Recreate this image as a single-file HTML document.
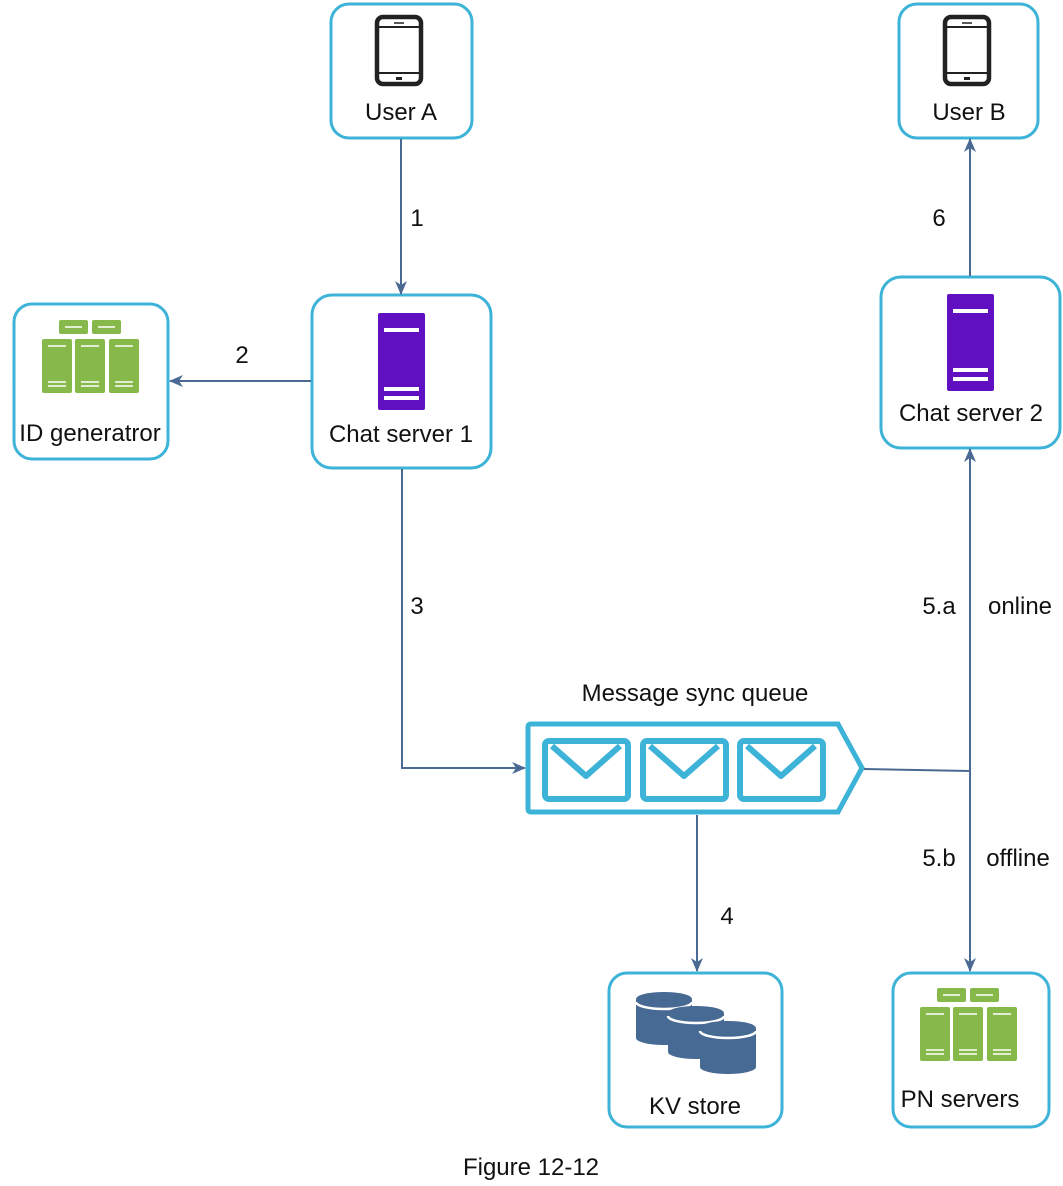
<!DOCTYPE html>
<html><head><style>
html,body{margin:0;padding:0;background:#fff;}
svg{display:block;}
text{font-family:"Liberation Sans",Arial,sans-serif;fill:#111;}
</style></head><body>
<svg width="1063" height="1186" viewBox="0 0 1063 1186" xmlns="http://www.w3.org/2000/svg">
<defs>
<marker id="ar" markerWidth="14" markerHeight="14" refX="13" refY="7" orient="auto" markerUnits="userSpaceOnUse">
<path d="M0,1 L14,7 L0,13 L4,7 Z" fill="#4a6a94"/></marker>
<g id="grn">
<rect x="17" y="0" width="29" height="14" rx="2" fill="#86b84a"/>
<rect x="50" y="0" width="29" height="14" rx="2" fill="#86b84a"/>
<line x1="23" y1="7" x2="40" y2="7" stroke="#fff" stroke-width="1.5"/>
<line x1="56" y1="7" x2="73" y2="7" stroke="#fff" stroke-width="1.5"/>
<g fill="#86b84a"><rect x="0" y="19" width="30" height="54" rx="2"/><rect x="33" y="19" width="30" height="54" rx="2"/><rect x="67" y="19" width="30" height="54" rx="2"/></g>
<g stroke="#fff" stroke-width="1.5">
<line x1="6" y1="26" x2="24" y2="26"/><line x1="39" y1="26" x2="57" y2="26"/><line x1="73" y1="26" x2="91" y2="26"/>
<line x1="6" y1="62" x2="24" y2="62"/><line x1="39" y1="62" x2="57" y2="62"/><line x1="73" y1="62" x2="91" y2="62"/>
<line x1="6" y1="66" x2="24" y2="66"/><line x1="39" y1="66" x2="57" y2="66"/><line x1="73" y1="66" x2="91" y2="66"/>
</g></g>
<g id="purp">
<rect x="0" y="0" width="47" height="97" rx="2" fill="#6010c0"/>
<rect x="6" y="15" width="35" height="4" fill="#fff"/>
<rect x="6" y="74" width="35" height="4" fill="#fff"/>
<rect x="6" y="83" width="35" height="4" fill="#fff"/>
</g>
<g id="phone">
<rect x="2" y="2" width="44" height="67" rx="6" fill="none" stroke="#222" stroke-width="4.5"/>
<line x1="2" y1="12" x2="46" y2="12" stroke="#222" stroke-width="2"/>
<line x1="2" y1="58" x2="46" y2="58" stroke="#222" stroke-width="2"/>
<line x1="19" y1="8" x2="29" y2="8" stroke="#222" stroke-width="1.5"/>
<rect x="21" y="62" width="6" height="3" fill="#222"/>
</g>
<g id="cyl">
<path d="M0,8 L0,46 A28,7 0 0 0 56,46 L56,8 Z" fill="#466a94"/>
<ellipse cx="28" cy="7" rx="28" ry="7" fill="#466a94"/>
<path d="M0,10 A28,7 0 0 0 56,10" fill="none" stroke="#fff" stroke-width="2.5"/>
</g>
</defs>

<g fill="#fff" stroke="#3db3d8" stroke-width="3">
<rect x="331" y="4" width="141" height="134" rx="18"/>
<rect x="899" y="4" width="139" height="134" rx="18"/>
<rect x="14" y="304" width="154" height="155" rx="18"/>
<rect x="312" y="295" width="179" height="173" rx="20"/>
<rect x="881" y="277" width="179" height="171" rx="20"/>
<rect x="609" y="973" width="173" height="154" rx="18"/>
<rect x="893" y="973" width="156" height="154" rx="18"/>
</g>

<use href="#phone" x="375" y="15"/>
<use href="#phone" x="943" y="15"/>
<use href="#grn" x="42" y="320"/>
<use href="#grn" x="920" y="988"/>
<use href="#purp" x="378" y="313"/>
<use href="#purp" x="947" y="294"/>
<use href="#cyl" x="636" y="992"/>
<use href="#cyl" x="668" y="1006"/>
<use href="#cyl" x="700" y="1021"/>

<path d="M531,724 L838,724 L862,768 L838,812 L531,812 Q528,812 528,809 L528,727 Q528,724 531,724 Z" fill="none" stroke="#3db3d8" stroke-width="5"/>
<g fill="none" stroke="#3db3d8" stroke-width="6" stroke-linejoin="round">
<rect x="545" y="741" width="83" height="58" rx="4"/>
<path d="M552,746 L586,776 L620,746"/>
<rect x="643" y="741" width="83" height="58" rx="4"/>
<path d="M650,746 L684,776 L718,746"/>
<rect x="740" y="741" width="83" height="58" rx="4"/>
<path d="M747,746 L781,776 L815,746"/>
</g>

<g stroke="#4a6a94" stroke-width="2" fill="none">
<line x1="401" y1="139" x2="401" y2="294" marker-end="url(#ar)"/>
<line x1="311" y1="381" x2="170" y2="381" marker-end="url(#ar)"/>
<polyline points="402,469 402,768 525,768" marker-end="url(#ar)"/>
<line x1="864" y1="769" x2="970" y2="771"/>
<line x1="970" y1="771" x2="970" y2="449" marker-end="url(#ar)"/>
<line x1="970" y1="771" x2="970" y2="971" marker-end="url(#ar)"/>
<line x1="697" y1="815" x2="697" y2="971" marker-end="url(#ar)"/>
<line x1="970" y1="276" x2="970" y2="139" marker-end="url(#ar)"/>
</g>

<g font-size="24" text-anchor="middle">
<text x="401" y="120">User A</text>
<text x="969" y="120">User B</text>
<text x="90" y="441">ID generatror</text>
<text x="401" y="442">Chat server 1</text>
<text x="971" y="421">Chat server 2</text>
<text x="695" y="1114">KV store</text>
<text x="960" y="1107">PN servers</text>
<text x="695" y="701">Message sync queue</text>
<text x="417" y="226">1</text>
<text x="242" y="363">2</text>
<text x="417" y="614">3</text>
<text x="727" y="924">4</text>
<text x="939" y="614">5.a</text>
<text x="1020" y="614">online</text>
<text x="939" y="866">5.b</text>
<text x="1018" y="866">offline</text>
<text x="939" y="226">6</text>
<text x="531" y="1175">Figure 12-12</text>
</g>
</svg>
</body></html>
